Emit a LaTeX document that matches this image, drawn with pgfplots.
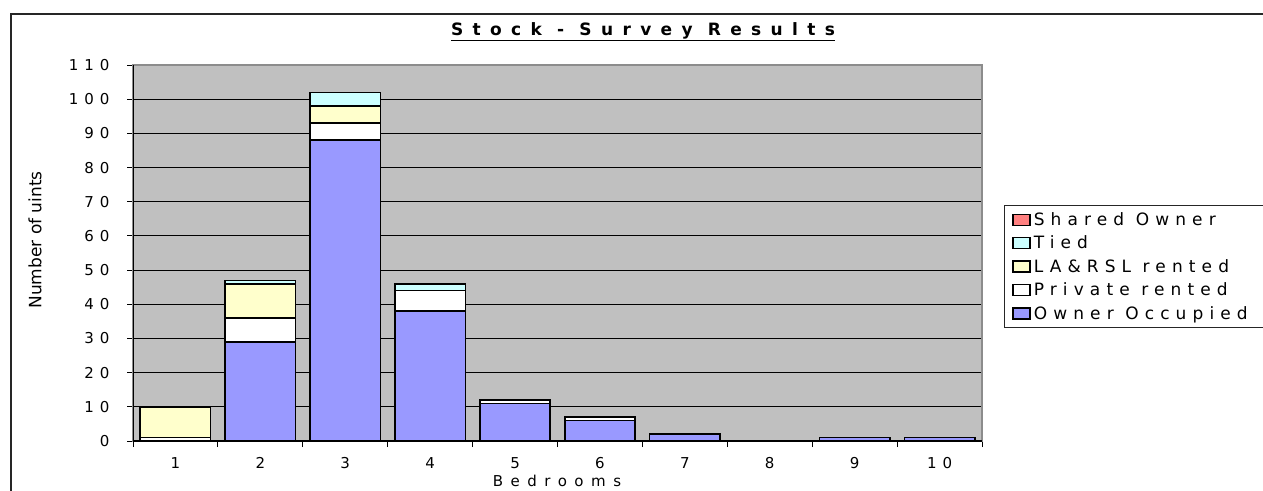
\documentclass[border=0pt]{standalone}
\usepackage{fontspec}
\setmainfont{DejaVu Sans}
\newfontfamily\tickfont[LetterSpace=40]{DejaVu Sans}
\newfontfamily\legfont[LetterSpace=36]{DejaVu Sans}
\newfontfamily\titlefont[LetterSpace=55]{DejaVu Sans}
\newfontfamily\xlabfont[LetterSpace=50]{DejaVu Sans}
\usepackage{pgfplots}
\pgfplotsset{compat=1.18}

\definecolor{plotbg}{HTML}{C0C0C0}
\definecolor{owner}{HTML}{9999FF}
\definecolor{lasrsl}{HTML}{FFFFCC}
\definecolor{tied}{HTML}{CCFFFF}
\definecolor{shared}{HTML}{FF8080}

\begin{document}
\begin{tikzpicture}[x=1pt,y=1pt]
\useasboundingbox (0,0) rectangle (1263,490);
% chart frame
\draw[line width=1.2pt, black!85] (11,-5) -- (11,476) -- (1270,476);

\begin{axis}[
  at={(133pt,49pt)}, anchor=south west,
  scale only axis, width=849pt, height=376pt,
  xmin=0.5, xmax=10.5, ymin=0, ymax=110,
  ybar stacked, bar width=0.83,
  axis background/.style={fill=plotbg},
  axis line style={draw=gray!90, line width=1.2pt},
  xtick pos=bottom, ytick pos=left,
  ytick={0,10,...,110},
  ymajorgrids, major grid style={black, line width=0.9pt},
  tick align=outside,
  major tick length=6pt,
  ytick style={black, line width=0.9pt},
  yticklabel style={font=\tickfont\fontsize{15}{17}\selectfont, xshift=-14pt},
  /pgf/number format/assume math mode=true,
  xtick={0.5,1.5,...,10.5},
  xticklabels={},
  xtick style={black, line width=0.9pt},
  extra x ticks={1,2,...,10},
  extra x tick labels={1,2,3,4,5,6,7,8,9,10},
  extra x tick style={major tick length=0pt, grid=none,
    xticklabel style={font=\tickfont\fontsize{15}{17}\selectfont, yshift=-13pt}},
  legend reversed,
  legend cell align=left,
  legend image code/.code={\draw[#1, line width=1.3pt] (0pt,-5.5pt) rectangle (17pt,5.5pt);},
  legend style={at={(axis description cs:1.0259,0.6277)}, anchor=north west,
    draw=black!85, line width=1pt, fill=white,
    font=\legfont\fontsize{17}{19}\selectfont,
    row sep=7pt, inner xsep=8pt, inner ysep=6pt,
    nodes={inner xsep=3pt, inner ysep=1pt}},
  every axis plot/.append style={draw=black, line width=1.6pt},
]
\addplot[fill=owner] coordinates {(1,0) (2,29) (3,88) (4,38) (5,11) (6,6) (7,2) (8,0) (9,1) (10,1)};
\addplot[fill=white] coordinates {(1,1) (2,7) (3,5) (4,6) (5,1) (6,1) (7,0) (8,0) (9,0) (10,0)};
\addplot[fill=lasrsl] coordinates {(1,9) (2,10) (3,5) (4,0) (5,0) (6,0) (7,0) (8,0) (9,0) (10,0)};
\addplot[fill=tied] coordinates {(1,0) (2,1) (3,4) (4,2) (5,0) (6,0) (7,0) (8,0) (9,0) (10,0)};
\addplot[fill=shared] coordinates {(1,0) (2,0) (3,0) (4,0) (5,0) (6,0) (7,0) (8,0) (9,0) (10,0)};
\legend{Owner Occupied\hspace*{30pt}, Private rented, LA\&RSL rented, Tied, Shared Owner}
% left and bottom axis lines in black
\draw[black, line width=1.2pt] (rel axis cs:0,1) -- (rel axis cs:0,0) -- (rel axis cs:1,0);
\end{axis}

\node[font=\titlefont\bfseries\fontsize{17}{19}\selectfont] at (643,458) {\underline{Stock - Survey Results}};
\node[rotate=90, font=\fontsize{17}{19}\selectfont] at (35,250) {Number of uints};
\node[font=\xlabfont\fontsize{15}{17}\selectfont] at (557,9) {Bedrooms};
\end{tikzpicture}
\end{document}
